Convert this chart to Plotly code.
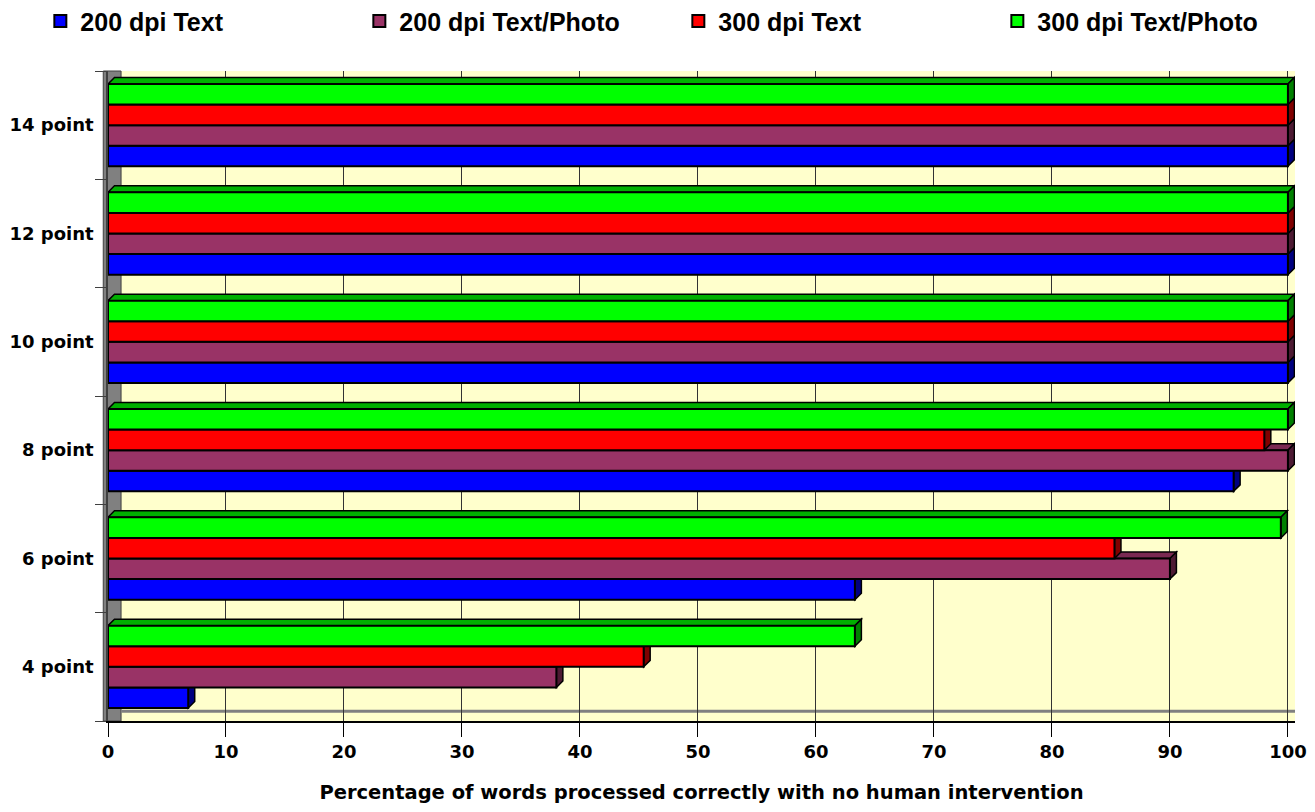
import plotly.graph_objects as go

sizes = ["4 point", "6 point", "8 point", "10 point", "12 point", "14 point"]
series_names = ["200 dpi Text", "200 dpi Text/Photo", "300 dpi Text", "300 dpi Text/Photo"]
dpi200_text = [6.8, 63.3, 95.4, 100, 100, 100]
dpi200_photo = [38.0, 90.0, 100, 100, 100, 100]
dpi300_text = [45.4, 85.3, 98.0, 100, 100, 100]
dpi300_photo = [63.3, 99.4, 100, 100, 100, 100]
x_ticks = [0, 10, 20, 30, 40, 50, 60, 70, 80, 90, 100]

front_colors = ["#0000FF", "#993366", "#FF0000", "#00FF00"]
side_colors = ["#000080", "#4D1A33", "#800000", "#008000"]
top_colors = ["#0000C0", "#7A2952", "#C00000", "#00B000"]

all_series = [dpi200_text, dpi200_photo, dpi300_text, dpi300_photo]

BARGAP = 0.24
DX = 0.55   # depth offset along x (data units)
DY = 0.06   # depth offset along y (category units)

fig = go.Figure()
for name, vals, col in zip(series_names, all_series, front_colors):
    fig.add_trace(go.Bar(
        y=sizes, x=vals, name=name, orientation="h",
        marker=dict(color=col, line=dict(color="black", width=2)),
    ))

# pseudo 3D faces (right side + top) derived from the data
shapes = []
group_w = 1 - BARGAP
bar_w = group_w / len(all_series)
for i, vals in enumerate(all_series):
    for ci, v in enumerate(vals):
        y0 = ci - group_w / 2 + bar_w * i
        y1 = y0 + bar_w
        side = f"M {v},{y0} L {v + DX},{y0 + DY} L {v + DX},{y1 + DY} L {v},{y1} Z"
        top = f"M 0,{y1} L {DX},{y1 + DY} L {v + DX},{y1 + DY} L {v},{y1} Z"
        for p, c in ((top, top_colors[i]), (side, side_colors[i])):
            shapes.append(dict(type="path", path=p, xref="x", yref="y",
                               fillcolor=c, line=dict(color="black", width=1.5),
                               layer="between"))

# left wall and floor edge
shapes.append(dict(type="rect", xref="paper", yref="paper",
                   x0=-0.004, x1=0.011, y0=0.0, y1=1.0,
                   fillcolor="#808080", line=dict(color="#404040", width=1),
                   layer="below"))
shapes.append(dict(type="line", xref="paper", yref="paper",
                   x0=0.011, x1=1.0, y0=0.015, y1=0.015,
                   line=dict(color="#808080", width=3), layer="below"))

fig.update_layout(
    width=1299, height=796,
    barmode="group", bargap=BARGAP, bargroupgap=0,
    paper_bgcolor="white", plot_bgcolor="#FFFFCC",
    margin=dict(l=100, r=12, t=63, b=83, autoexpand=False),
    shapes=shapes,
    font=dict(family="DejaVu Sans", size=18, color="black"),
    legend=dict(
        orientation="h", x=-0.057, y=1.112, xanchor="left", yanchor="top",
        font=dict(family="Liberation Sans", size=25, color="black", weight="bold"),
        entrywidth=274, entrywidthmode="pixels",
        traceorder="normal", bgcolor="rgba(0,0,0,0)",
    ),
    showlegend=True,
)
fig.update_xaxes(
    range=[0, 100.6], tickvals=x_ticks, showgrid=True, gridcolor="#333333", gridwidth=1,
    zeroline=False, showline=True, linecolor="black", linewidth=1.5,
    ticks="outside", ticklen=14, tickcolor="black", automargin=False,
    ticklabeloverflow="allow",
    tickfont=dict(family="DejaVu Sans", size=18, weight="bold"),
    title=dict(text="Percentage of words processed correctly with no human intervention",
               font=dict(family="DejaVu Sans", size=19.5, weight="bold"), standoff=26),
)
fig.update_yaxes(
    categoryorder="array", categoryarray=sizes, range=[-0.5, 5.5],
    showgrid=False, showline=True, linecolor="#404040", linewidth=1.5,
    ticks="outside", tickson="boundaries", ticklen=11, tickcolor="#404040",
    tickfont=dict(family="DejaVu Sans", size=18, weight="bold"),
    ticklabelstandoff=9, automargin=False,
)

fig.write_html("out.html")
